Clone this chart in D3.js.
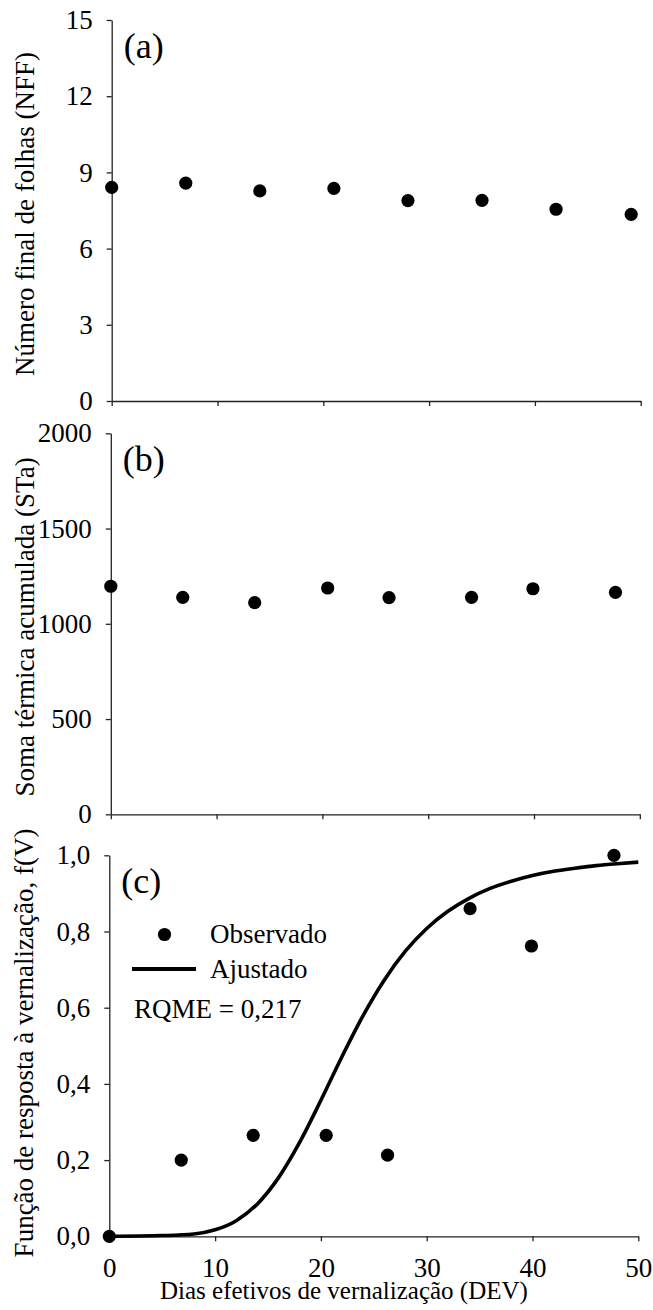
<!DOCTYPE html>
<html>
<head>
<meta charset="utf-8">
<script src="https://cdn.jsdelivr.net/npm/d3@7"></script>
<style>
  body { margin: 0; background: #fff; }
  svg { display: block; }
</style>
</head>
<body>
<svg id="chart"></svg>
<script>
// days of vernalization
const daysA = [0, 7, 14, 21, 28, 35, 42, 49.1];
const nffA = [8.41, 8.58, 8.27, 8.37, 7.89, 7.9, 7.55, 7.35];
const daysBC = [0, 6.8, 13.6, 20.5, 26.3, 34.1, 39.9, 47.7];
const staB = [1197, 1139, 1111, 1188, 1137, 1139, 1184, 1165];
const fvC = [0, 0.2, 0.265, 0.265, 0.213, 0.86, 0.762, 1.0];

// fitted curve, sampled from the figure
const fitDays = [0, 5, 8, 10, 12, 14, 16, 18, 20, 22, 24, 26, 28, 30, 32, 34, 36, 38, 40, 42, 44, 46, 48, 50];
const fitFv = [0, 0.002, 0.006, 0.017, 0.041, 0.085, 0.154, 0.247, 0.357, 0.472, 0.58, 0.673, 0.749, 0.808, 0.853, 0.887, 0.913, 0.932, 0.947, 0.958, 0.966, 0.973, 0.978, 0.982];

const xTicks = [0, 10, 20, 30, 40, 50];
const yTicksA = [0, 3, 6, 9, 12, 15];
const yTicksB = [0, 500, 1000, 1500, 2000];
const yTicksC = [0, 0.2, 0.4, 0.6, 0.8, 1.0];

const W = 653, H = 1310;
const PW = 529, PH = 381;
const R = 6.6;
const FONT = 'Liberation Serif';

const svg = d3.select('#chart').attr('width', W).attr('height', H);

const commaFmt = (d) => d3.format('.1f')(d).replace('.', ',');

const panels = [
  {
    left: 111.7, top: 20, label: '(a)', title: 'Número final de folhas (NFF)', titleY: 214, titleX: 34,
    yMax: 15, yTicks: yTicksA, fmt: d3.format('d'), xs: daysA, ys: nffA, xLabels: false,
  },
  {
    left: 110.8, top: 433.3, label: '(b)', title: 'Soma térmica acumulada (STa)', titleY: 627, titleX: 34,
    yMax: 2000, yTicks: yTicksB, fmt: d3.format('d'), xs: daysBC, ys: staB, xLabels: false,
  },
  {
    left: 109.3, top: 855.3, label: '(c)', title: 'Função de resposta à vernalização, f(V)', titleY: 1043, titleX: 33,
    yMax: 1, yTicks: yTicksC, fmt: commaFmt, xs: daysBC, ys: fvC, xLabels: true,
  },
];

const txt = (sel, size) => sel.attr('font-family', FONT).attr('font-size', size).attr('fill', '#000');

panels.forEach((p) => {
  const x = d3.scaleLinear().domain([0, 50]).range([0, PW]);
  const y = d3.scaleLinear().domain([0, p.yMax]).range([PH, 0]);
  const g = svg.append('g').attr('transform', `translate(${p.left},${p.top})`);

  const xAxis = g.append('g')
    .attr('transform', `translate(0,${PH})`)
    .call(d3.axisBottom(x).tickValues(xTicks).tickSize(5).tickSizeOuter(0).tickPadding(17)
      .tickFormat(p.xLabels ? d3.format('d') : () => ''));
  const yAxis = g.append('g')
    .call(d3.axisLeft(y).tickValues(p.yTicks).tickSize(5).tickSizeOuter(0).tickPadding(14)
      .tickFormat(p.fmt));

  [xAxis, yAxis].forEach((a) => {
    a.attr('font-family', FONT).attr('font-size', 27);
    a.selectAll('path, line').attr('stroke', '#222').attr('stroke-width', 1.3);
    txt(a.selectAll('text'), 27);
  });

  if (p.label === '(c)') {
    const line = d3.line()
      .x((d, i) => x(fitDays[i]))
      .y((d) => y(d))
      .curve(d3.curveMonotoneX);
    g.append('path')
      .datum(fitFv)
      .attr('d', line)
      .attr('fill', 'none')
      .attr('stroke', '#000')
      .attr('stroke-width', 3.6);
  }

  g.append('g')
    .selectAll('circle')
    .data(p.ys)
    .join('circle')
    .attr('cx', (d, i) => x(p.xs[i]))
    .attr('cy', (d) => y(d))
    .attr('r', R)
    .attr('fill', '#000');

  g.append('text')
    .attr('x', 12)
    .attr('y', 38)
    .call(txt, 36)
    .text(p.label);

  svg.append('text')
    .attr('transform', `translate(${p.titleX},${p.titleY}) rotate(-90)`)
    .attr('text-anchor', 'middle')
    .call(txt, 27)
    .text(p.title);
});

// x title, only under the last panel
svg.append('text')
  .attr('x', 160)
  .attr('y', 1299)
  .call(txt, 25)
  .text('Dias efetivos de vernalização (DEV)');

// legend of panel (c)
const leg = svg.append('g');
leg.append('circle').attr('cx', 164.5).attr('cy', 934.5).attr('r', R).attr('fill', '#000');
leg.append('text').attr('x', 210).attr('y', 943).call(txt, 27).text('Observado');
leg.append('line')
  .attr('x1', 132).attr('x2', 196).attr('y1', 969).attr('y2', 969)
  .attr('stroke', '#000').attr('stroke-width', 4);
leg.append('text').attr('x', 210).attr('y', 977.5).call(txt, 27).text('Ajustado');
leg.append('text').attr('x', 134).attr('y', 1018).call(txt, 27).text('RQME = 0,217');
</script>
</body>
</html>
